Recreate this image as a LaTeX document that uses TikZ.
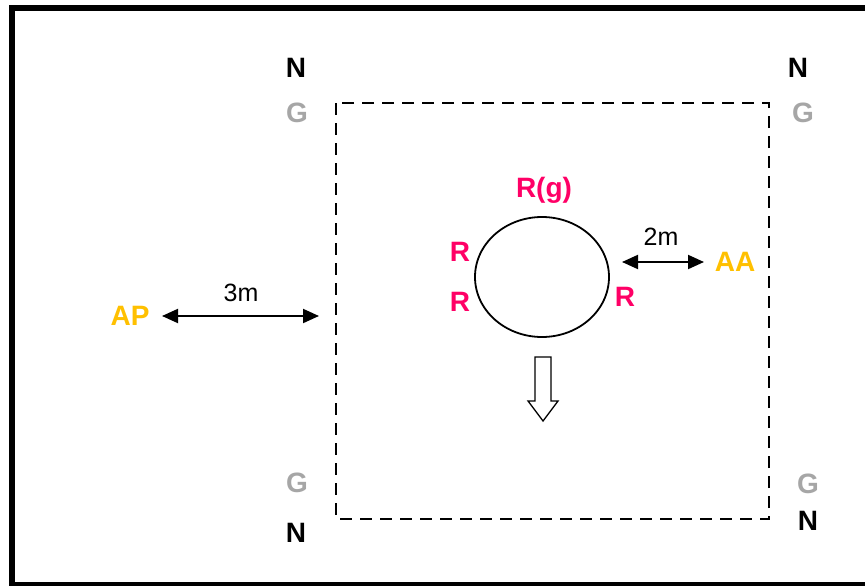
\documentclass[tikz,border=0pt]{standalone}
\usepackage{fontspec}
\setmainfont{Liberation Sans}
\usetikzlibrary{arrows.meta}
\definecolor{pinkR}{HTML}{FF0066}
\definecolor{goldA}{HTML}{FFC000}
\definecolor{grayG}{HTML}{A6A6A6}
\tikzset{
  lbl/.style={font=\fontsize{28}{32}\selectfont\bfseries, inner sep=0pt},
  nlbl/.style={lbl, text=black},
  glbl/.style={lbl, text=grayG},
  rlbl/.style={lbl, text=pinkR},
  albl/.style={lbl, text=goldA},
  dist/.style={font=\fontsize{25}{29}\selectfont, inner sep=0pt},
  darrow/.style={line width=2pt, {Triangle[length=16pt,width=14pt]}-{Triangle[length=16pt,width=14pt]}},
  plot/.style={dash pattern=on 12pt off 8pt, line width=2.6pt}
}
\begin{document}
\begin{tikzpicture}[x=1pt,y=-1pt]
\useasboundingbox (0,0) rectangle (865,586);
% outer frame
\draw[line width=6pt] (12,8) rectangle (885,585);
% dashed plot
\draw[plot] (336,103) rectangle (769,519);
% corner labels
\node[nlbl] (n1) at (296,68) {N};
\node[glbl] (g1) at (297,113) {G};
\node[nlbl] (n2) at (798,68) {N};
\node[glbl] (g2) at (803,113) {G};
\node[glbl] (g3) at (297,483) {G};
\node[nlbl] (n3) at (296,533) {N};
\node[glbl] (g4) at (808,484) {G};
\node[nlbl] (n4) at (808,521) {N};
% tree circle
\draw[line width=1.8pt] (542,277) ellipse [x radius=67, y radius=60];
\coordinate (tree) at (542,277);
\node[rlbl] (rg) at (544,190) {R(g)};
\node[rlbl] (r1) at (460,252) {R};
\node[rlbl] (r2) at (460,302) {R};
\node[rlbl] (r3) at (625,297) {R};
% 2m to AA
\coordinate (a2l) at (622,262);
\coordinate (a2r) at (704,262);
\draw[darrow] (a2l) -- (a2r);
\node[dist] (d2) at (661,237) {2m};
\node[albl] (aa) at (735,262) {AA};
% AP 3m
\node[albl] (ap) at (130,316) {AP};
\coordinate (a3l) at (162,316);
\coordinate (a3r) at (319,316);
\draw[darrow] (a3l) -- (a3r);
\node[dist] (d3) at (241,293) {3m};
% hollow down arrow
\draw[line width=1.3pt, fill=white] (535,357) -- (551,357) -- (551,401) -- (558,401) -- (543,421) -- (528,401) -- (535,401) -- cycle;
\end{tikzpicture}
\end{document}
